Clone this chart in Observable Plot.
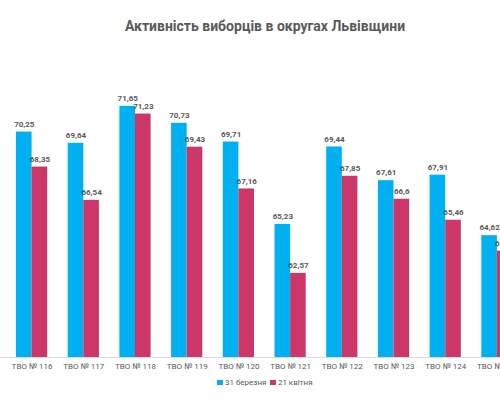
<!DOCTYPE html>
<html>
<head>
<meta charset="utf-8">
<script src="https://cdn.jsdelivr.net/npm/d3@7"></script>
<script src="https://cdn.jsdelivr.net/npm/@observablehq/plot@0.6"></script>
<style>
  html, body { margin: 0; padding: 0; background: #fff; overflow: hidden; }
  #wrap { width: 530px; font-family: Roboto, "DejaVu Sans", sans-serif; }
  .title { height: 52px; line-height: 52px; text-align: center; font-size: 14px; font-weight: bold; color: #595959; }
  #chart svg { display: block; }
  .legend { height: 18px; line-height: 18px; text-align: center; font-size: 8px; color: #595959; }
  .legend span.item { display: inline-block; margin: 0 2px; }
  .legend span.sw { display: inline-block; width: 5.5px; height: 5.5px; margin-right: 2px; vertical-align: 0px; }
</style>
</head>
<body>
<div id="wrap">
  <div class="title">Активність виборців в округах Львівщини</div>
  <div id="chart"></div>
  <div class="legend" id="legend"></div>
</div>
<script>
const districts = ["ТВО № 116", "ТВО № 117", "ТВО № 118", "ТВО № 119", "ТВО № 120", "ТВО № 121", "ТВО № 122", "ТВО № 123", "ТВО № 124", "ТВО № 125"];
const march31 = [70.25, 69.64, 71.65, 70.73, 69.71, 65.23, 69.44, 67.61, 67.91, 64.62];
const april21 = [68.35, 66.54, 71.23, 69.43, 67.16, 62.57, 67.85, 66.6, 65.46, 63.78];
const seriesNames = ["31 березня", "21 квітня"];
const seriesColors = ["#00b0f0", "#cc3668"];
const yMin = 58;
const yMax = 74;

const data = [];
districts.forEach((d, i) => {
  data.push({district: d, series: seriesNames[0], value: march31[i]});
  data.push({district: d, series: seriesNames[1], value: april21[i]});
});

const fmt = v => String(v).replace(".", ",");

const plot = Plot.plot({
  width: 530,
  height: 322,
  marginTop: 10.6,
  marginBottom: 17,
  marginLeft: 5.75,
  marginRight: 7.25,
  style: {fontFamily: "Roboto, sans-serif", fontSize: "8px", color: "#595959", background: "#fff"},
  fx: {domain: districts, paddingInner: 0.3965, paddingOuter: 0.198, round: false, label: null, tickSize: 0, tickPadding: 6, axis: "bottom"},
  x: {domain: seriesNames, padding: 0, round: false, axis: null},
  y: {domain: [yMin, yMax], axis: null},
  color: {domain: seriesNames, range: seriesColors},
  marks: [
    Plot.barY(data, {fx: "district", x: "series", y1: yMin, y2: "value", fill: "series"}),
    Plot.text(data, {fx: "district", x: "series", y: "value", text: d => fmt(d.value), dy: -8, fill: "#595959", fontWeight: "bold", fontSize: 8})
  ]
});

const ys = plot.scale("y");
const by = ys.apply(yMin);
d3.select(plot).insert("line", ":first-child")
  .attr("x1", 0).attr("x2", 530)
  .attr("y1", by + 0.5).attr("y2", by + 0.5)
  .attr("stroke", "#d9d9d9").attr("stroke-width", 1);

document.getElementById("chart").appendChild(plot);

const legend = document.getElementById("legend");
seriesNames.forEach((s, i) => {
  const item = document.createElement("span");
  item.className = "item";
  const sw = document.createElement("span");
  sw.className = "sw";
  sw.style.background = seriesColors[i];
  item.appendChild(sw);
  item.appendChild(document.createTextNode(s));
  legend.appendChild(item);
});
</script>
</body>
</html>
